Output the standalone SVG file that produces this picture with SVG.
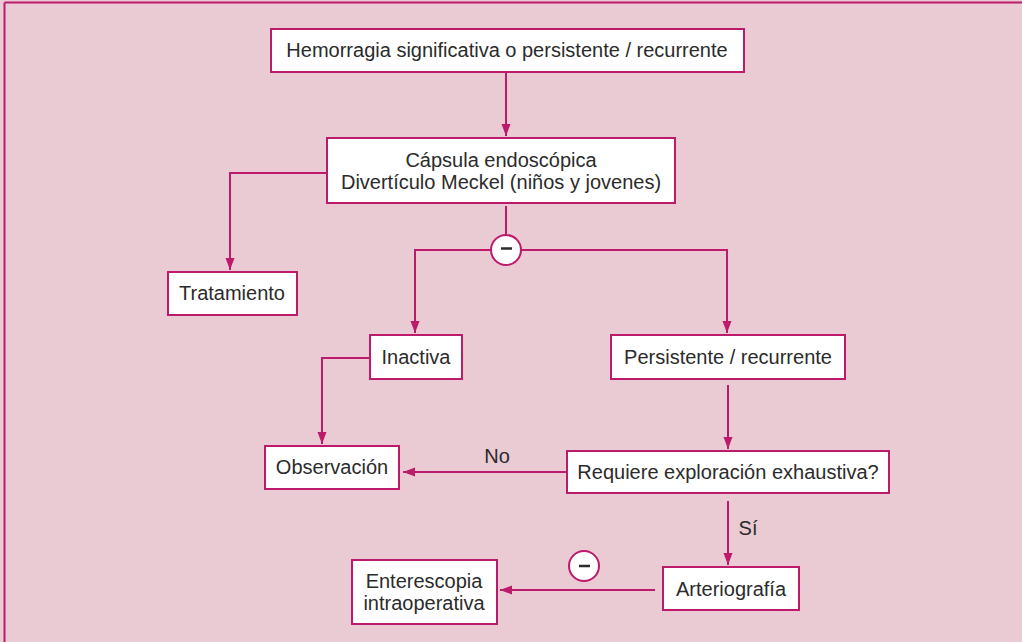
<svg xmlns="http://www.w3.org/2000/svg" width="1022" height="642" viewBox="0 0 1022 642">
  <style>
    .box { fill: #ffffff; stroke: #BC1A6A; stroke-width: 2; }
    .lbl { font-family: "Liberation Sans", Arial, sans-serif; font-size: 20px; fill: #2B2B2B; text-anchor: middle; }
    .wire { fill: none; stroke: #BC1A6A; stroke-width: 2; }
    .arrow { marker-end: url(#head); }
    .gate { fill: #ffffff; stroke: #BC1A6A; stroke-width: 2; }
    .minus { stroke: #2B2B2B; stroke-width: 2.5; }
  </style>
  <defs>
    <marker id="head" markerUnits="userSpaceOnUse" markerWidth="14" markerHeight="10" refX="12" refY="4.5" orient="auto">
      <path d="M0,0 L12,4.5 L0,9 Z" fill="#BC1A6A"/>
    </marker>
  </defs>

  <!-- page background and frame -->
  <rect x="0" y="0" width="1022" height="642" fill="#EACAD3"/>
  <line x1="4.5" y1="2.5" x2="1022" y2="2.5" stroke="#BC1A6A" stroke-width="2"/>
  <line x1="4.5" y1="2.5" x2="4.5" y2="642" stroke="#BC1A6A" stroke-width="2"/>

  <!-- connectors -->
  <g id="connectors">
    <path class="wire arrow" d="M506,72 V136"/>
    <path class="wire arrow" d="M327,173 H230 V270"/>
    <path class="wire" d="M506,206 V235"/>
    <path class="wire arrow" d="M491,250 H415 V333"/>
    <path class="wire arrow" d="M521,250 H727 V333"/>
    <path class="wire arrow" d="M370,358 H322 V444"/>
    <path class="wire arrow" d="M728,385 V449"/>
    <path class="wire arrow" d="M566,472 H403"/>
    <path class="wire arrow" d="M728,501 V565"/>
    <path class="wire arrow" d="M655,590 H500"/>
    <text class="lbl" x="497" y="463">No</text>
    <text class="lbl" x="748" y="535">Sí</text>
    <g id="gate-1">
      <circle class="gate" cx="506" cy="250" r="15"/>
      <line class="minus" x1="501" y1="248.5" x2="512" y2="248.5"/>
    </g>
    <g id="gate-2">
      <circle class="gate" cx="584" cy="566" r="15"/>
      <line class="minus" x1="579" y1="566" x2="590" y2="566"/>
    </g>
  </g>

  <!-- nodes -->
  <g id="hemorragia">
    <rect class="box" x="271" y="29" width="473" height="43"/>
    <text class="lbl" x="507" y="57">Hemorragia significativa o persistente / recurrente</text>
  </g>
  <g id="capsula">
    <rect class="box" x="327" y="138" width="348" height="65"/>
    <text class="lbl" x="501" y="167">Cápsula endoscópica</text>
    <text class="lbl" x="501" y="189">Divertículo Meckel (niños y jovenes)</text>
  </g>
  <g id="tratamiento">
    <rect class="box" x="168" y="272" width="129" height="43"/>
    <text class="lbl" x="232" y="300">Tratamiento</text>
  </g>
  <g id="inactiva">
    <rect class="box" x="370" y="335" width="92" height="44"/>
    <text class="lbl" x="416" y="364">Inactiva</text>
  </g>
  <g id="persistente">
    <rect class="box" x="611" y="335" width="234" height="44"/>
    <text class="lbl" x="728" y="364">Persistente / recurrente</text>
  </g>
  <g id="observacion">
    <rect class="box" x="265" y="446" width="134" height="43"/>
    <text class="lbl" x="332" y="474">Observación</text>
  </g>
  <g id="requiere">
    <rect class="box" x="567" y="451" width="322" height="42"/>
    <text class="lbl" x="728" y="479">Requiere exploración exhaustiva?</text>
  </g>
  <g id="arteriografia">
    <rect class="box" x="663" y="567" width="136" height="43"/>
    <text class="lbl" x="731" y="596">Arteriografía</text>
  </g>
  <g id="enterescopia">
    <rect class="box" x="352" y="560" width="145" height="64"/>
    <text class="lbl" x="424" y="588">Enterescopia</text>
    <text class="lbl" x="424" y="610">intraoperativa</text>
  </g>
</svg>
